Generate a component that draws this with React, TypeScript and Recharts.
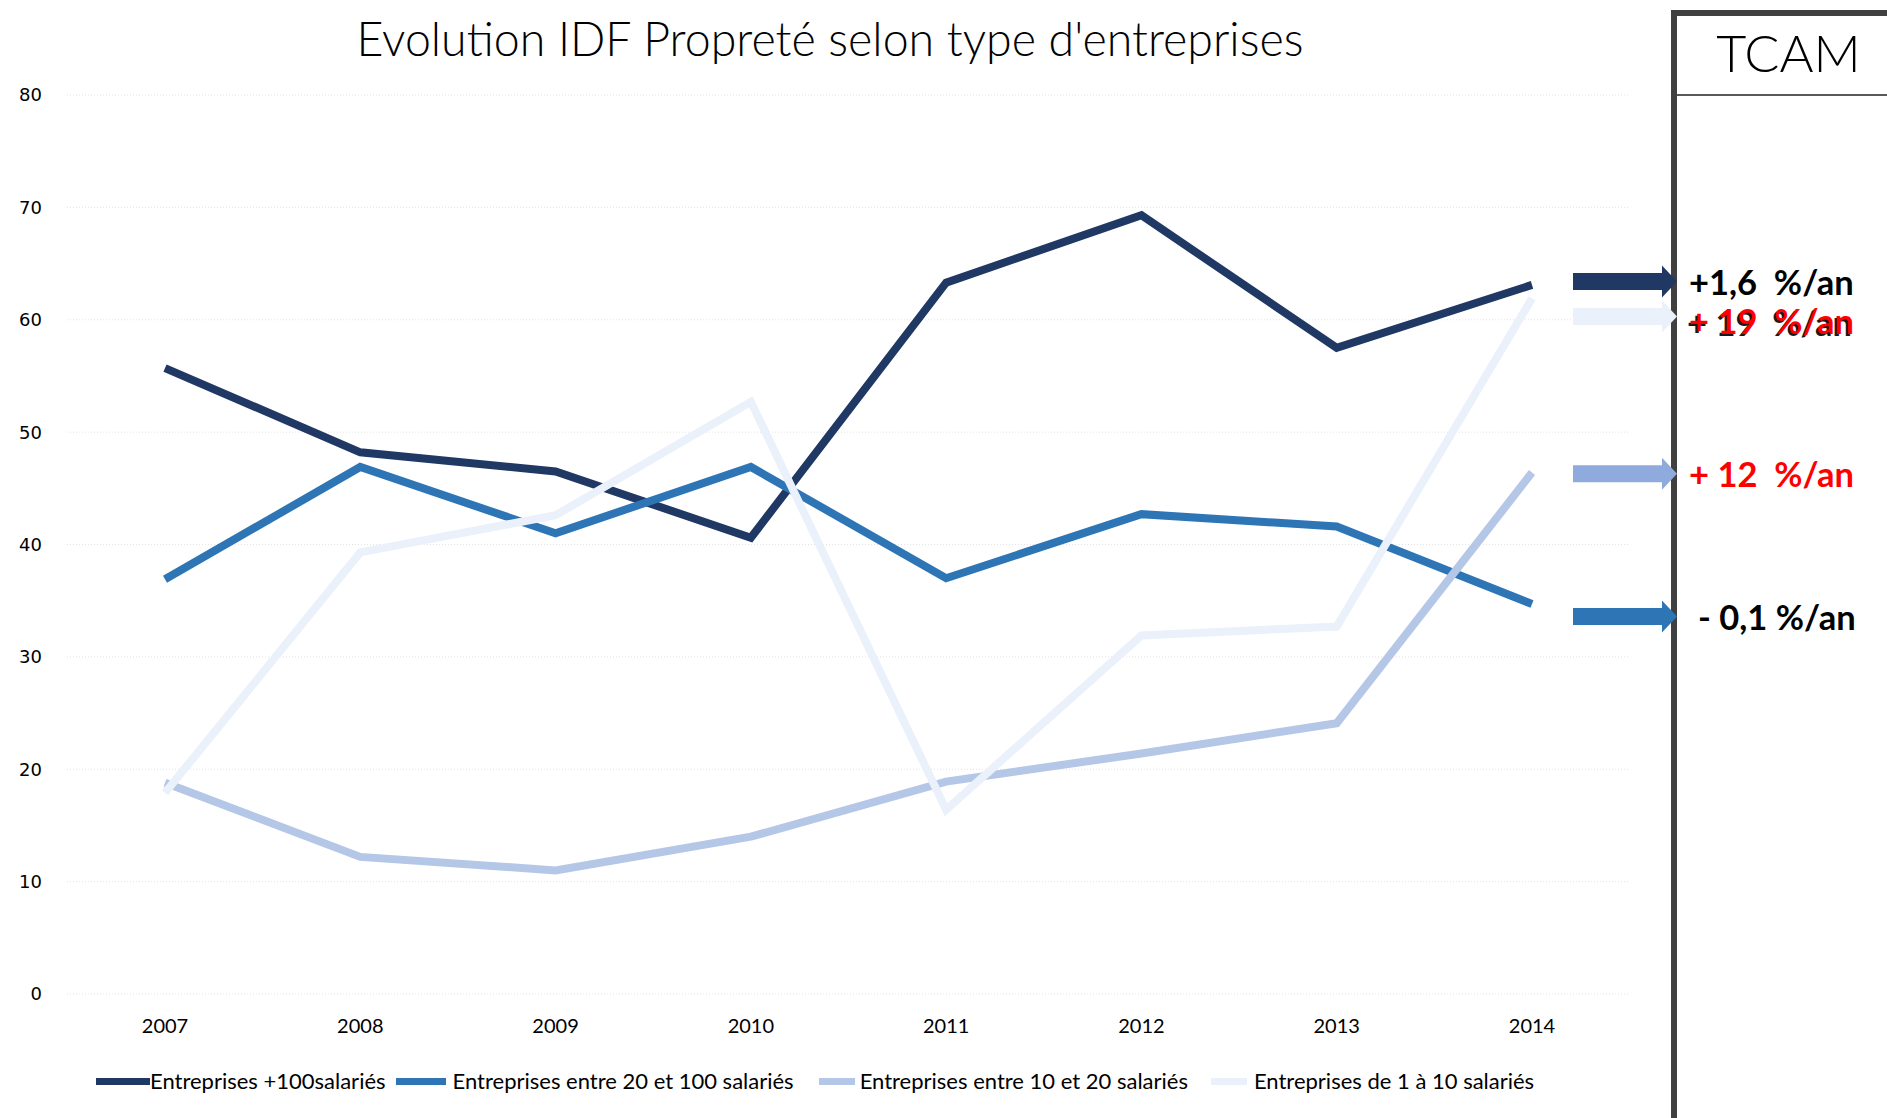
import React from "react";
import { LineChart, Line, XAxis, YAxis, CartesianGrid, ReferenceDot } from "recharts";

const years = ["2007", "2008", "2009", "2010", "2011", "2012", "2013", "2014"];

const plus100 = [55.7, 48.2, 46.5, 40.6, 63.3, 69.3, 57.5, 63.1];
const from20to100 = [36.9, 46.9, 41.0, 46.9, 37.0, 42.7, 41.6, 34.7];
const from10to20 = [18.8, 12.2, 11.0, 14.0, 18.9, 21.4, 24.1, 46.4];
const from1to10 = [17.9, 39.3, 42.6, 52.7, 16.4, 31.9, 32.7, 61.9];

const seriesKeys = ["plus100", "from20to100", "from10to20", "from1to10"];
const seriesNames = [
  "Entreprises +100salariés",
  "Entreprises entre 20 et 100 salariés",
  "Entreprises entre 10 et 20 salariés",
  "Entreprises de 1 à 10 salariés",
];
const seriesColors = ["#203864", "#2E75B6", "#B4C7E7", "#EAF1FA"];

const yTicks = [0, 10, 20, 30, 40, 50, 60, 70, 80];

// TCAM annotations on the right
const tcamLabels = ["+1,6  %/an", "+ 19  %/an", "+ 12  %/an", "- 0,1 %/an"];
const tcamLevels = [63.4, 60.3, 46.3, 33.6];
const tcamArrowColors = ["#203864", "#EAF1FA", "#8FAADC", "#2E75B6"];
const tcamTextColors = ["#000000", "#FF0000", "#FF0000", "#000000"];

const data = years.map((year, i) => ({
  year,
  plus100: plus100[i],
  from20to100: from20to100[i],
  from10to20: from10to20[i],
  from1to10: from1to10[i],
}));

const labelFont = "Lato, 'Open Sans', sans-serif";

// legend swatch sizes / spacing, as in the original excel export
const swatchWidths = [54, 50, 36, 36];
const swatchGaps = [0, 7, 5, 7];
const itemGaps = [0, 10, 25, 23];

function arrowShape(index: number) {
  return (props: any) => {
    const { cx, cy } = props;
    const x0 = cx + 41;
    const x1 = cx + 130;
    const tip = cx + 145;
    const shaft = 8.5;
    const head = 16;
    const path = `M${x0},${cy - shaft} L${x1},${cy - shaft} L${x1},${cy - head} L${tip},${cy} L${x1},${cy + head} L${x1},${cy + shaft} L${x0},${cy + shaft} Z`;
    const tx = cx + (index === 3 ? 166 : 157);
    const ty = cy + (index === 1 ? 4 : 0);
    const textStyle: React.CSSProperties = { whiteSpace: "pre" };
    return (
      <g>
        <path d={path} fill={tcamArrowColors[index]} />
        {index === 1 && (
          <text
            x={tx - 2}
            y={ty + 2}
            dominantBaseline="central"
            fontFamily={labelFont}
            fontWeight={700}
            fontSize={34.5}
            fill="#1a1a1a"
            style={textStyle}
          >
            {tcamLabels[index]}
          </text>
        )}
        <text
          x={tx}
          y={ty}
          dominantBaseline="central"
          fontFamily={labelFont}
          fontWeight={700}
          fontSize={34.5}
          fill={tcamTextColors[index]}
          style={textStyle}
        >
          {tcamLabels[index]}
        </text>
      </g>
    );
  };
}

export default function App() {
  return (
    <div
      style={{
        position: "absolute",
        left: 0,
        top: 0,
        width: 1887,
        height: 1118,
        background: "#ffffff",
        overflow: "hidden",
      }}
    >
      <div
        style={{
          position: "absolute",
          left: 280,
          width: 1100,
          top: 8,
          textAlign: "center",
          fontFamily: labelFont,
          fontWeight: 300,
          fontSize: 46.5,
          lineHeight: "60px",
          color: "#000",
        }}
      >
        Evolution IDF Propreté selon type d'entreprises
      </div>

      {/* TCAM panel */}
      <div style={{ position: "absolute", left: 1671, top: 10, width: 6, height: 1108, background: "#404040" }} />
      <div style={{ position: "absolute", left: 1671, top: 10, width: 216, height: 6, background: "#404040" }} />
      <div style={{ position: "absolute", left: 1677, top: 94, width: 210, height: 2, background: "#595959" }} />
      <div
        style={{
          position: "absolute",
          left: 1690,
          width: 197,
          top: 19,
          textAlign: "center",
          fontFamily: labelFont,
          fontWeight: 300,
          fontSize: 52,
          lineHeight: "66px",
          color: "#000",
        }}
      >
        TCAM
      </div>

      <div style={{ position: "absolute", left: 0, top: 0 }}>
        <LineChart
          width={1887}
          height={1118}
          data={data}
          margin={{ top: 95, right: 257, bottom: 0, left: 7 }}
        >
          <CartesianGrid vertical={false} stroke="#e3e3e3" strokeDasharray="1 2" />
          <XAxis
            dataKey="year"
            height={124}
            padding={{ left: 98, right: 98 }}
            axisLine={false}
            tickLine={false}
            tickSize={0}
            tickMargin={25}
            tick={{ fill: "#000", fontSize: 20, fontFamily: labelFont }}
            interval={0}
          />
          <YAxis
            width={60}
            domain={[0, 80]}
            ticks={yTicks}
            axisLine={false}
            tickLine={false}
            tickSize={0}
            tickMargin={25}
            tick={{ fill: "#000", fontSize: 18, fontFamily: "'DejaVu Sans', sans-serif" }}
          />
          {seriesKeys.map((key, i) => (
            <Line
              key={key}
              type="linear"
              dataKey={key}
              name={seriesNames[i]}
              stroke={seriesColors[i]}
              strokeWidth={8}
              dot={false}
              activeDot={false}
              isAnimationActive={false}
            />
          ))}
          {tcamLevels.map((level, i) => (
            <ReferenceDot
              key={"tcam" + i}
              x="2014"
              y={level}
              r={0}
              ifOverflow="visible"
              shape={arrowShape(i)}
            />
          ))}
        </LineChart>
      </div>

      {/* legend */}
      <div
        style={{
          position: "absolute",
          left: 96,
          top: 1067,
          display: "flex",
          alignItems: "center",
          fontFamily: labelFont,
          fontSize: 22,
          lineHeight: "28px",
          color: "#000",
          whiteSpace: "nowrap",
        }}
      >
        {seriesNames.map((name, i) => (
          <div key={name} style={{ display: "flex", alignItems: "center", marginLeft: itemGaps[i] }}>
            <div
              style={{
                width: swatchWidths[i],
                height: 7,
                background: seriesColors[i],
                marginRight: swatchGaps[i],
              }}
            />
            <span>{name}</span>
          </div>
        ))}
      </div>
    </div>
  );
}
